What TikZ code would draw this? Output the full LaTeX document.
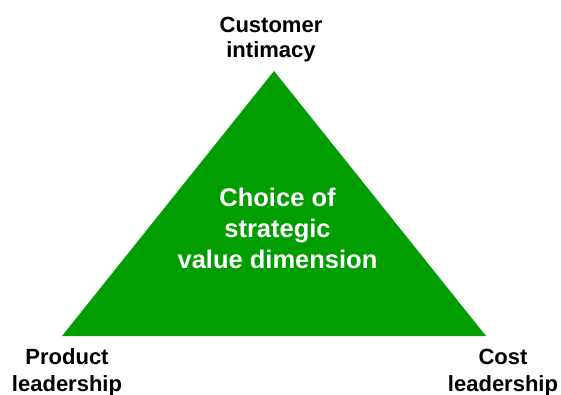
\documentclass[tikz,border=0pt]{standalone}
\usepackage{fontspec}
\setmainfont{Liberation Sans}
\definecolor{leafgreen}{HTML}{009E00}
\begin{document}
\begin{tikzpicture}[x=1pt,y=-1pt,
  corner/.style={align=center,inner sep=0pt,anchor=base,
    font=\bfseries\fontsize{22}{26}\selectfont,text=black},
  centre/.style={align=center,inner sep=0pt,anchor=base,
    font=\bfseries\fontsize{25.5}{31}\selectfont,text=white}]
  \useasboundingbox (0,0) rectangle (561,394);
  % the three corners of the triangle
  \coordinate (apex) at (274,71);
  \coordinate (left) at (62,336);
  \coordinate (right) at (486,336);
  \fill[leafgreen] (apex) -- (left) -- (right) -- cycle;
  % labels (anchored at the baseline of their last line)
  \node[corner,font=\bfseries\fontsize{22}{25}\selectfont] (cust) at (271,57) {Customer\\intimacy};
  \node[corner,font=\bfseries\fontsize{22}{27}\selectfont] (prod) at (67,391) {Product\\leadership};
  \node[corner,font=\bfseries\fontsize{22}{27}\selectfont] (cost) at (503,391) {Cost\\leadership};
  \node[centre] (choice) at (277.5,268) {Choice of\\strategic\\value dimension};
\end{tikzpicture}
\end{document}
